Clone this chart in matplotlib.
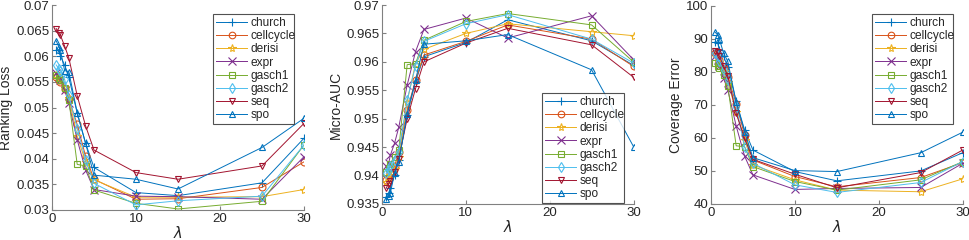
import matplotlib
matplotlib.use("Agg")
import matplotlib.pyplot as plt

plt.rcParams['font.family'] = ['Liberation Sans', 'DejaVu Sans']
plt.rcParams['mathtext.fontset'] = 'dejavusans'

lam = [0.5, 0.8, 1.0, 1.5, 2, 3, 4, 5, 10, 15, 25, 30]
names = ['church', 'cellcycle', 'derisi', 'expr', 'gasch1', 'gasch2', 'seq', 'spo']
colors = ['#0072BD', '#D95319', '#EDB120', '#7E2F8E', '#77AC30', '#4DBEEE', '#A2142F', '#0072BD']
markers = ['+', 'o', '*', 'x', 's', 'd', 'v', '^']

rank_loss = {
    'church':    [0.0612, 0.0613, 0.0600, 0.0583, 0.0559, 0.0489, 0.0430, 0.0383, 0.0334, 0.0328, 0.0353, 0.0440],
    'cellcycle': [0.0559, 0.0554, 0.0550, 0.0537, 0.0517, 0.0467, 0.0405, 0.0360, 0.0321, 0.0322, 0.0344, 0.0394],
    'derisi':    [0.0563, 0.0558, 0.0553, 0.0538, 0.0519, 0.0444, 0.0394, 0.0359, 0.0325, 0.0325, 0.0326, 0.0340],
    'expr':      [0.0567, 0.0560, 0.0553, 0.0534, 0.0508, 0.0437, 0.0378, 0.0340, 0.0327, 0.0326, 0.0321, 0.0404],
    'gasch1':    [0.0563, 0.0558, 0.0553, 0.0539, 0.0515, 0.0389, 0.0386, 0.0339, 0.0313, 0.0302, 0.0317, 0.0427],
    'gasch2':    [0.0583, 0.0576, 0.0572, 0.0555, 0.0524, 0.0459, 0.0398, 0.0352, 0.0310, 0.0318, 0.0327, 0.0427],
    'seq':       [0.0654, 0.0646, 0.0641, 0.0620, 0.0597, 0.0523, 0.0464, 0.0417, 0.0373, 0.0360, 0.0386, 0.0469],
    'spo':       [0.0630, 0.0619, 0.0612, 0.0572, 0.0570, 0.0490, 0.0430, 0.0368, 0.0360, 0.0341, 0.0422, 0.0479],
}

micro_auc = {
    'church':    [0.9363, 0.9370, 0.9378, 0.9401, 0.9427, 0.9507, 0.9565, 0.9609, 0.9634, 0.9674, 0.9637, 0.9594],
    'cellcycle': [0.9392, 0.9398, 0.9404, 0.9416, 0.9442, 0.9515, 0.9568, 0.9612, 0.9636, 0.9665, 0.9640, 0.9592],
    'derisi':    [0.9389, 0.9395, 0.9401, 0.9412, 0.9433, 0.9530, 0.9597, 0.9622, 0.9650, 0.9667, 0.9653, 0.9646],
    'expr':      [0.9416, 0.9422, 0.9436, 0.9457, 0.9485, 0.9559, 0.9618, 0.9657, 0.9677, 0.9642, 0.9681, 0.9604],
    'gasch1':    [0.9407, 0.9413, 0.9420, 0.9433, 0.9445, 0.9595, 0.9597, 0.9638, 0.9671, 0.9685, 0.9665, 0.9600],
    'gasch2':    [0.9404, 0.9410, 0.9416, 0.9428, 0.9442, 0.9533, 0.9593, 0.9636, 0.9667, 0.9683, 0.9640, 0.9598],
    'seq':       [0.9378, 0.9386, 0.9390, 0.9407, 0.9430, 0.9500, 0.9553, 0.9600, 0.9633, 0.9659, 0.9630, 0.9573],
    'spo':       [0.9359, 0.9364, 0.9370, 0.9404, 0.9424, 0.9509, 0.9568, 0.9631, 0.9637, 0.9648, 0.9586, 0.9451],
}

coverage = {
    'church':    [89.1, 88.6, 86.6, 84.6, 81.5, 71.0, 62.4, 56.3, 49.8, 47.0, 50.0, 55.5],
    'cellcycle': [85.6, 84.8, 83.5, 81.0, 78.5, 70.3, 60.9, 53.3, 48.3, 45.2, 48.0, 52.5],
    'derisi':    [85.2, 84.3, 83.0, 80.2, 77.0, 67.9, 59.4, 51.8, 47.3, 44.2, 43.7, 47.6],
    'expr':      [84.6, 83.5, 81.8, 78.0, 74.5, 63.6, 54.5, 48.8, 44.4, 44.7, 45.0, 52.3],
    'gasch1':    [82.6, 81.8, 81.0, 79.0, 75.7, 57.6, 57.3, 51.3, 46.8, 44.2, 47.3, 52.8],
    'gasch2':    [85.6, 84.6, 83.2, 80.5, 77.5, 69.4, 57.3, 52.3, 45.8, 43.5, 46.5, 52.8],
    'seq':       [86.3, 85.8, 84.6, 81.8, 78.7, 67.4, 59.9, 53.5, 49.0, 44.9, 49.5, 56.3],
    'spo':       [91.9, 91.1, 89.8, 85.6, 83.1, 70.8, 61.9, 54.0, 50.1, 49.8, 55.5, 61.7],
}

panels = [
    (rank_loss, 'Ranking Loss', (0.03, 0.07), [0.03, 0.035, 0.04, 0.045, 0.05, 0.055, 0.06, 0.065, 0.07],
     ['0.03', '0.035', '0.04', '0.045', '0.05', '0.055', '0.06', '0.065', '0.07'],
     [52 / 969, 1 - 210 / 240, 252 / 969, 205 / 240], (213 / 969, 1 - 117 / 240, 81 / 969, 103 / 240)),
    (micro_auc, 'Micro-AUC', (0.935, 0.97), [0.935, 0.94, 0.945, 0.95, 0.955, 0.96, 0.965, 0.97],
     ['0.935', '0.94', '0.945', '0.95', '0.955', '0.96', '0.965', '0.97'],
     [382 / 969, 1 - 204 / 240, 251.5 / 969, 199 / 240], (542 / 969, 1 - 196 / 240, 82 / 969, 103 / 240)),
    (coverage, 'Coverage Error', (40, 100), [40, 50, 60, 70, 80, 90, 100],
     ['40', '50', '60', '70', '80', '90', '100'],
     [711 / 969, 1 - 204 / 240, 251.7 / 969, 198.5 / 240], (872 / 969, 1 - 117 / 240, 81 / 969, 103 / 240)),
]

fig = plt.figure(figsize=(9.69, 2.4), dpi=100)
axis_color = '#262626'
for data, ylabel, ylim, yticks, ylabels, rect, leg_box in panels:
    ax = fig.add_axes(rect)
    for n, c, m in zip(names, colors, markers):
        ax.plot(lam, data[n], color=c, marker=m, lw=0.7, ms=6 if m in ('+', '*', 'x') else 5,
                mfc='none', mew=0.8, label=n)
    ax.set_xlim(0, 30)
    ax.set_ylim(*ylim)
    ax.set_xticks([0, 10, 20, 30])
    ax.set_yticks(yticks)
    ax.set_yticklabels(ylabels)
    for s in ('top', 'right'):
        ax.spines[s].set_visible(False)
    for s in ('left', 'bottom'):
        ax.spines[s].set_color('#808080')
        ax.spines[s].set_linewidth(0.8)
    ax.tick_params(direction='in', length=3, colors='#808080', labelcolor=axis_color, labelsize=9.5, pad=2)
    ax.set_ylabel(ylabel, fontsize=10, color=axis_color, labelpad=2)
    ax.set_xlabel(r'$\lambda$', fontsize=10.5, color=axis_color, labelpad=0)
    leg = ax.legend(loc='upper left', bbox_to_anchor=leg_box, bbox_transform=fig.transFigure,
                    mode='expand', fontsize=8.6, frameon=True, fancybox=False, edgecolor='#262626',
                    borderpad=0.25, labelspacing=0.1, handlelength=2.6, handletextpad=0.3, borderaxespad=0,
                    markerscale=0.95)
    leg.get_frame().set_linewidth(0.8)
    for t in leg.get_texts():
        t.set_color(axis_color)

fig.savefig('out.png', dpi=100)
